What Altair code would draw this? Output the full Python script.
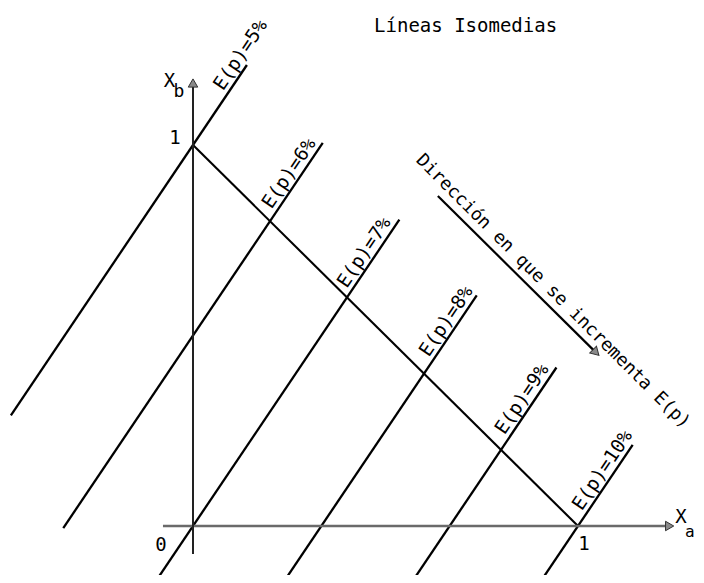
import altair as alt
import pandas as pd

# ---- data (data units: X_a horizontal, X_b vertical) ----
levels = ["E(p)=5%", "E(p)=6%", "E(p)=7%", "E(p)=8%", "E(p)=9%", "E(p)=10%"]
x_top = [0.140, 0.337, 0.536, 0.737, 0.944, 1.142]
y_top = [1.210, 1.0055, 0.804, 0.6055, 0.416, 0.213]
x_bottom = [-0.473, -0.337, -0.097, 0.239, 0.572, 0.905]
y_bottom = [0.2905, -0.0055, -0.1455, -0.1415, -0.142, -0.1425]
label_x = [0.147, 0.273, 0.468, 0.681, 0.878, 1.087]
label_y = [1.2205, 0.9095, 0.702, 0.5215, 0.317, 0.1305]

diag_x = [0.0, 1.0]
diag_y = [1.0, 0.0]

tick_text = ["0", "1", "1"]
tick_x = [-0.083, 1.0156, -0.047]
tick_y = [-0.0656, -0.063, 1.0026]

title_text = "Líneas Isomedias"
dir_text = "Dirección en que se incrementa E(p)"

W, H = 688, 567
xs = alt.Scale(domain=[-185 / 385, (W - 185) / 385], nice=False, zero=False)
ys = alt.Scale(domain=[(518 - H) / 381, 518 / 381], nice=False, zero=False)
FONT = "DejaVu Sans Mono"


def X(f="x"):
    return alt.X(f"{f}:Q", scale=xs, axis=None)


def Y(f="y"):
    return alt.Y(f"{f}:Q", scale=ys, axis=None)


rows = []
for lv, xt, yt, xb, yb in zip(levels, x_top, y_top, x_bottom, y_bottom):
    rows.append({"level": lv, "x": xb, "y": yb, "o": 0})
    rows.append({"level": lv, "x": xt, "y": yt, "o": 1})
lines_df = pd.DataFrame(rows)

iso = alt.Chart(lines_df).mark_line(color="black", strokeWidth=2.3, clip=True).encode(
    x=X(), y=Y(), detail="level:N", order="o:Q"
)

diag = alt.Chart(pd.DataFrame({"x": diag_x, "y": diag_y})).mark_line(
    color="black", strokeWidth=2.1
).encode(x=X(), y=Y())

xaxis = alt.Chart(pd.DataFrame({"x": [-0.078], "x2": [1.24], "y": [0.0]})).mark_rule(
    color="#6a6a6a", strokeWidth=2.4
).encode(x=X(), x2="x2:Q", y=Y())

yaxis = alt.Chart(pd.DataFrame({"x": [0.0], "y": [-0.0735], "y2": [1.165]})).mark_rule(
    color="#222", strokeWidth=2
).encode(x=X(), y=Y(), y2="y2:Q")

heads = pd.DataFrame({
    "x": [1.238, 0.0, 1.0468],
    "y": [0.0, 1.1627, 0.4554],
    "shape": ["triangle-right", "triangle-up", "triangle-up"],
    "angle": [0, 0, 135],
})
arrowheads = alt.Chart(heads).mark_point(
    filled=True, size=90, color="#8a8a8a", stroke="#333", strokeWidth=1, opacity=1
).encode(
    x=X(), y=Y(),
    shape=alt.Shape("shape:N", scale=None, legend=None),
    angle=alt.Angle("angle:Q", scale=None),
)

dir_arrow = alt.Chart(pd.DataFrame({"x": [0.636], "y": [0.866], "x2": [1.045], "y2": [0.457]})).mark_rule(
    color="black", strokeWidth=2.2
).encode(x=X(), y=Y(), x2="x2:Q", y2="y2:Q")

labels = alt.Chart(pd.DataFrame({"t": levels, "x": label_x, "y": label_y})).mark_text(
    font=FONT, fontSize=19, angle=304, align="center", baseline="alphabetic", dy=-5, color="black"
).encode(x=X(), y=Y(), text="t:N")

ticks = alt.Chart(pd.DataFrame({"t": tick_text, "x": tick_x, "y": tick_y})).mark_text(
    font=FONT, fontSize=19, align="center", baseline="alphabetic", color="black"
).encode(x=X(), y=Y(), text="t:N")

axis_names = pd.DataFrame({
    "t": ["X", "b", "X", "a"],
    "x": [-0.061, -0.0364, 1.2675, 1.2905],
    "y": [1.152, 1.126, 0.0079, -0.0289],
    "s": [19, 18, 19, 16],
})
names = alt.Chart(axis_names).mark_text(
    font=FONT, align="center", baseline="alphabetic", color="black"
).encode(x=X(), y=Y(), text="t:N", size=alt.Size("s:Q", scale=None, legend=None))

title = alt.Chart(pd.DataFrame({"t": [title_text], "x": [0.708], "y": [1.2966]})).mark_text(
    font=FONT, fontSize=19, align="center", baseline="alphabetic", color="black"
).encode(x=X(), y=Y(), text="t:N")

dirlab = alt.Chart(pd.DataFrame({"t": [dir_text], "x": [0.9109], "y": [0.5911]})).mark_text(
    font=FONT, fontSize=18, angle=45, align="center", baseline="middle", dy=-13, color="black"
).encode(x=X(), y=Y(), text="t:N")

chart = alt.layer(
    iso, diag, xaxis, yaxis, dir_arrow, arrowheads, labels, ticks, names, title, dirlab
).properties(
    width=W, height=H, padding=0, background="white",
    autosize=alt.AutoSizeParams(type="none")
).configure_view(stroke=None)

chart.save("out.html", embed_options={"renderer": "svg", "actions": False})
